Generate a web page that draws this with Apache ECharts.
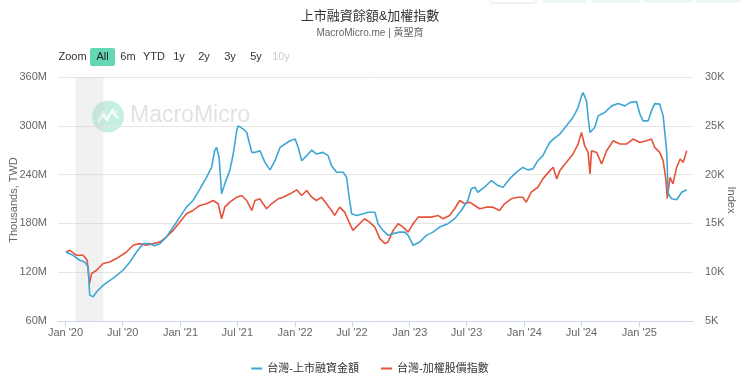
<!DOCTYPE html>
<html>
<head>
<meta charset="utf-8">
<script src="https://cdn.jsdelivr.net/npm/echarts@6/dist/echarts.min.js"></script>
<style>
  html, body { margin: 0; padding: 0; background: #fff; }
  #chart { width: 740px; height: 378px; }
</style>
</head>
<body>
<div id="chart"></div>
<script>
// 台灣-上市融資金額 (millions of thousands TWD)
const marginDates = [
  '2020-01-02','2020-01-25','2020-02-15','2020-03-02','2020-03-13','2020-03-18','2020-03-29','2020-04-09',
  '2020-04-30','2020-06-01','2020-07-02','2020-07-24','2020-08-14','2020-09-04','2020-09-25','2020-10-10',
  '2020-10-27','2020-11-17','2020-12-09','2020-12-30','2021-01-20','2021-02-10','2021-03-04','2021-03-25',
  '2021-04-10','2021-04-20','2021-04-26','2021-05-04','2021-05-12','2021-05-22','2021-06-07','2021-06-18',
  '2021-06-29','2021-07-04','2021-07-20','2021-07-31','2021-08-16','2021-08-26','2021-09-11','2021-09-27',
  '2021-10-13','2021-10-29','2021-11-14','2021-11-30','2021-12-16','2022-01-01','2022-01-11','2022-01-22',
  '2022-02-07','2022-02-23','2022-03-10','2022-03-31','2022-04-16','2022-04-27','2022-05-13','2022-06-03',
  '2022-06-14','2022-06-22','2022-06-30','2022-07-16','2022-08-06','2022-08-22','2022-09-12','2022-09-22',
  '2022-10-08','2022-10-24','2022-11-09','2022-11-30','2022-12-16','2022-12-27','2023-01-12','2023-02-02',
  '2023-02-23','2023-03-16','2023-04-06','2023-05-03','2023-05-24','2023-06-14','2023-07-05','2023-07-16',
  '2023-07-27','2023-08-06','2023-08-27','2023-09-18','2023-10-09','2023-10-25','2023-11-15','2023-12-06',
  '2023-12-27','2024-01-12','2024-01-28','2024-02-13','2024-02-29','2024-03-11','2024-03-22','2024-04-02',
  '2024-04-23','2024-05-14','2024-06-04','2024-06-20','2024-07-01','2024-07-06','2024-07-17','2024-07-22',
  '2024-07-28','2024-08-12','2024-08-23','2024-09-13','2024-10-05','2024-10-26','2024-11-16','2024-12-02',
  '2024-12-23','2025-01-03','2025-01-13','2025-01-29','2025-02-09','2025-02-19','2025-03-07','2025-03-18',
  '2025-03-29','2025-04-03','2025-04-14','2025-04-30','2025-05-16','2025-06-01'
];
const marginValues = [
  144.9,140.8,134.7,132.6,126.5,91.8,89.8,95.9,
  104.1,112.7,122.4,132.6,144.9,155.1,155.1,152.5,
  155.1,163.2,175.5,187.7,200,208.2,222.5,236.7,
  248.9,269.4,273.4,261.2,216.4,228.6,244.9,265.3,
  293.9,300,296,291.8,267.3,267.3,269.4,255.1,
  245.8,257.1,273.4,277.6,281.6,283.7,273.4,257.1,
  263.3,270.2,265.3,267.3,263.3,251,242.8,242.8,
  236.7,212.2,191.9,189.8,191.9,193.8,193.8,179.6,
  171.4,165.3,167.4,169.3,169.3,165.3,153.1,157.1,
  165.3,169.3,175.5,179.6,185.8,195.9,208.2,222.5,
  224.5,218.3,224.5,232.7,226.5,224.5,234.7,242.8,
  248.9,245.8,247,257.1,263.3,271.5,279.6,283.7,
  289.8,300,310.2,322.4,336.7,340.8,330.6,310.2,
  291.8,297.9,312.2,316.3,324.5,327.3,324.5,328.5,
  329.8,314.3,306.1,306.1,318.4,327.3,326.6,312.2,
  269.4,216.7,210.2,209,218.3,221.3
];

// 台灣-加權股價指數
const indexDates = [
  '2020-01-02','2020-01-15','2020-02-05','2020-02-26','2020-03-10','2020-03-17','2020-03-24','2020-04-09',
  '2020-04-30','2020-05-21','2020-06-11','2020-07-13','2020-08-03','2020-08-24','2020-09-14','2020-10-06',
  '2020-10-27','2020-11-17','2020-12-09','2020-12-30','2021-01-20','2021-02-10','2021-03-04','2021-03-25',
  '2021-04-15','2021-05-01','2021-05-12','2021-05-22','2021-06-07','2021-06-29','2021-07-15','2021-07-31',
  '2021-08-16','2021-08-26','2021-09-11','2021-09-21','2021-10-02','2021-10-18','2021-11-08','2021-11-24',
  '2021-12-16','2022-01-06','2022-01-22','2022-02-07','2022-02-23','2022-03-10','2022-03-26','2022-04-11',
  '2022-04-27','2022-05-07','2022-05-23','2022-06-08','2022-06-24','2022-07-04','2022-07-20','2022-08-10',
  '2022-08-26','2022-09-12','2022-09-28','2022-10-14','2022-10-24','2022-11-09','2022-11-25','2022-12-11',
  '2022-12-27','2023-01-12','2023-01-28','2023-02-18','2023-03-11','2023-04-01','2023-04-17','2023-05-08',
  '2023-05-24','2023-06-09','2023-06-25','2023-07-11','2023-07-27','2023-08-12','2023-09-02','2023-09-23',
  '2023-10-14','2023-10-30','2023-11-20','2023-12-11','2023-12-27','2024-01-07','2024-01-23','2024-02-13',
  '2024-02-29','2024-03-22','2024-04-02','2024-04-13','2024-04-23','2024-05-14','2024-06-04','2024-06-20',
  '2024-07-01','2024-07-11','2024-07-22','2024-07-28','2024-08-02','2024-08-18','2024-09-03','2024-09-19',
  '2024-10-10','2024-10-31','2024-11-21','2024-12-12','2025-01-03','2025-01-24','2025-02-09','2025-02-19',
  '2025-03-07','2025-03-18','2025-03-27','2025-03-31','2025-04-09','2025-04-18','2025-04-30','2025-05-11',
  '2025-05-21','2025-06-01'
];
const indexValues = [
  12071,12245,11735,11735,11224,8800,9867,10204,
  10888,11051,11398,12071,12755,12928,12755,12928,
  13092,13602,14286,15133,15990,16326,16837,17010,
  17347,17010,15480,16663,17173,17684,17857,17347,
  16326,17347,17520,17010,16500,17010,17520,17684,
  18030,18439,17857,18367,17684,17347,17684,17010,
  16326,15816,16663,16153,14969,14286,14796,15480,
  15133,14622,13439,12928,13092,14286,14969,14622,
  14112,14969,15643,15643,15643,15816,15480,15816,
  16500,17347,17010,17173,16837,16500,16663,16663,
  16326,17010,17520,17684,17684,17173,18194,18704,
  19561,20408,20745,19561,20408,21255,22112,23133,
  24316,22959,22275,20071,22449,22275,21092,22449,
  23469,23133,23133,23643,23296,23469,23643,22786,
  22275,21429,19388,17551,19724,19051,20745,21602,
  21255,22449
];

// x-axis ticks
const xTickDates = [
  '2020-01-01','2020-07-01','2021-01-01','2021-07-01','2022-01-01','2022-07-01',
  '2023-01-01','2023-07-01','2024-01-01','2024-07-01','2025-01-01'
];
const xTickLabels = [
  "Jan '20","Jul '20","Jan '21","Jul '21","Jan '22","Jul '22",
  "Jan '23","Jul '23","Jan '24","Jul '24","Jan '25"
];

const zoomButtons = ['6m', 'YTD', '1y', '2y', '3y', '5y', '10y'];
const zoomButtonX = [128, 154, 179, 204, 230, 256, 281];

const FONT = '"Liberation Sans", "Noto Sans CJK TC", sans-serif';
const BLUE = '#3fa6d4';
const RED = '#e4533a';

const toTime = d => Date.UTC(+d.slice(0, 4), +d.slice(5, 7) - 1, +d.slice(8, 10));
const tickTimes = xTickDates.map(toTime);

const chart = echarts.init(document.getElementById('chart'));

const graphics = [
  { type: 'text', x: 72.5, y: 57, style: { text: 'Zoom', font: '11px ' + FONT, fill: '#333', align: 'center', verticalAlign: 'middle' } },
  { type: 'rect', shape: { x: 90, y: 48, width: 25, height: 18, r: 2 }, style: { fill: '#64d7b4' } },
  { type: 'text', x: 102.5, y: 57, style: { text: 'All', font: '11px ' + FONT, fill: '#222', align: 'center', verticalAlign: 'middle' } },
  // axis titles
  { type: 'text', x: 14, y: 200, rotation: Math.PI / 2, style: { text: 'Thousands, TWD', font: '11px ' + FONT, fill: '#666', align: 'center', verticalAlign: 'middle' } },
  { type: 'text', x: 731, y: 200, rotation: -Math.PI / 2, style: { text: 'Index', font: '11px ' + FONT, fill: '#666', align: 'center', verticalAlign: 'middle' } },
  // watermark
  { type: 'circle', shape: { cx: 108, cy: 116.5, r: 16 }, style: { fill: '#c6efe3' }, z: -1 },
  { type: 'polyline', shape: { points: [[98, 123], [103, 115], [107, 120], [112, 111], [118, 118]] }, style: { stroke: '#fff', lineWidth: 2, fill: null }, z: -1 },
  { type: 'polyline', shape: { points: [[98, 119], [103, 112], [108, 117], [113, 109], [118, 113]] }, style: { stroke: '#fff', lineWidth: 1.2, fill: null, opacity: 0.7 }, z: -1 },
  { type: 'text', x: 130, y: 116, style: { text: 'MacroMicro', font: '23px ' + FONT, fill: '#e2e2e2', verticalAlign: 'middle' }, z: -1 },
  // cut-off toolbar at the top right
  { type: 'rect', shape: { x: 490, y: -6, width: 46, height: 9, r: 2 }, style: { fill: '#fff', stroke: '#e6e6e6' } },
  { type: 'rect', shape: { x: 543, y: -6, width: 43, height: 9 }, style: { fill: '#eaf8f3' } },
  { type: 'rect', shape: { x: 592, y: -6, width: 48, height: 9 }, style: { fill: '#eaf8f3' } },
  { type: 'rect', shape: { x: 644, y: -6, width: 48, height: 9 }, style: { fill: '#eaf8f3' } },
  { type: 'rect', shape: { x: 696, y: -6, width: 44, height: 9 }, style: { fill: '#eaf8f3' } }
];
zoomButtons.forEach((b, i) => {
  graphics.push({
    type: 'text', x: zoomButtonX[i], y: 57,
    style: { text: b, font: '11px ' + FONT, fill: b === '10y' ? '#cccccc' : '#333', align: 'center', verticalAlign: 'middle' }
  });
});

chart.setOption({
  animation: false,
  textStyle: { fontFamily: FONT },
  title: {
    text: '上市融資餘額&加權指數',
    subtext: 'MacroMicro.me | 黃聖育',
    left: 'center',
    top: 5,
    itemGap: 5,
    textStyle: { fontSize: 13, fontWeight: 'normal', color: '#333', fontFamily: FONT },
    subtextStyle: { fontSize: 10, color: '#666', fontFamily: FONT }
  },
  legend: {
    top: 358,
    left: 'center',
    itemGap: 22,
    itemWidth: 11,
    itemHeight: 2,
    icon: 'rect',
    textStyle: { fontSize: 11, color: '#333', fontFamily: FONT },
    data: ['台灣-上市融資金額', '台灣-加權股價指數']
  },
  graphic: graphics,
  grid: { left: 58, right: 47, top: 77, bottom: 57, outerBoundsMode: 'none', containLabel: false },
  xAxis: {
    type: 'value',
    min: toTime('2019-12-08'),
    max: toTime('2025-06-21'),
    axisLine: { lineStyle: { color: '#ccd6eb' } },
    axisTick: { show: true, length: 6, customValues: tickTimes, lineStyle: { color: '#ccd6eb' } },
    axisLabel: {
      customValues: tickTimes,
      color: '#666',
      fontSize: 11,
      margin: 6,
      formatter: v => {
        const i = tickTimes.indexOf(+v);
        return i >= 0 ? xTickLabels[i] : '';
      }
    },
    splitLine: { show: false }
  },
  yAxis: [
    {
      type: 'value',
      min: 60, max: 360, interval: 60,
      axisLine: { show: false },
      axisTick: { show: false },
      axisLabel: { color: '#666', fontSize: 11, margin: 11, formatter: v => v + 'M' },
      splitLine: { lineStyle: { color: '#e6e6e6' } }
    },
    {
      type: 'value',
      min: 5000, max: 30000, interval: 5000,
      axisLine: { show: false },
      axisTick: { show: false },
      axisLabel: { color: '#666', fontSize: 11, margin: 12, formatter: v => (v / 1000) + 'K' },
      splitLine: { show: false }
    }
  ],
  series: [
    {
      name: '台灣-上市融資金額',
      type: 'line',
      yAxisIndex: 0,
      showSymbol: false,
      symbol: 'none',
      lineStyle: { color: BLUE, width: 1.6 },
      itemStyle: { color: BLUE },
      data: marginDates.map((d, i) => [toTime(d), marginValues[i]]),
      markArea: {
        silent: true,
        itemStyle: { color: 'rgba(200,200,200,0.25)' },
        data: [[{ xAxis: toTime('2020-02-01') }, { xAxis: toTime('2020-04-30') }]]
      },
      z: 3
    },
    {
      name: '台灣-加權股價指數',
      type: 'line',
      yAxisIndex: 1,
      showSymbol: false,
      symbol: 'none',
      lineStyle: { color: RED, width: 1.6 },
      itemStyle: { color: RED },
      data: indexDates.map((d, i) => [toTime(d), indexValues[i]]),
      z: 2
    }
  ]
});
</script>
</body>
</html>
